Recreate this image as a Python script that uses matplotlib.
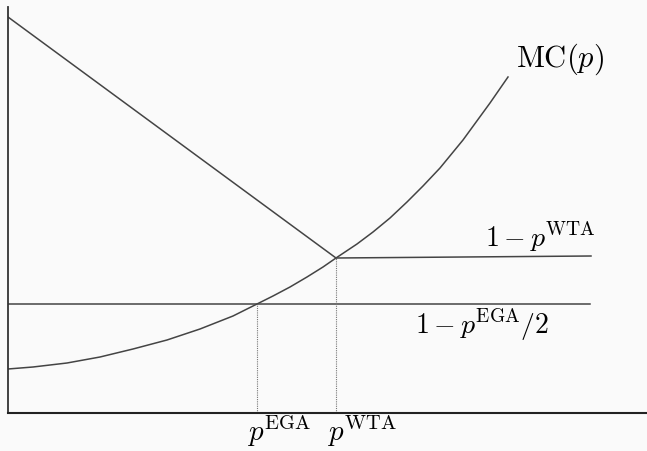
import matplotlib
matplotlib.use("Agg")
import matplotlib.pyplot as plt

plt.rcParams['mathtext.fontset'] = 'cm'

# marginal cost curve MC(p)
mc_p = [0.00, 0.25, 0.59, 0.92, 1.25, 1.59, 1.92, 2.25, 2.49, 2.65, 2.82, 2.99,
        3.15, 3.28, 3.49, 3.65, 3.82, 3.99, 4.15, 4.32, 4.55, 4.82, 5.00]
mc_y = [0.44, 0.46, 0.50, 0.56, 0.64, 0.73, 0.84, 0.97, 1.09, 1.17, 1.26, 1.36,
        1.46, 1.55, 1.69, 1.81, 1.95, 2.11, 2.27, 2.45, 2.73, 3.10, 3.36]

# winner-takes-all: falling line, then flat at 1 - p^WTA
wta_p = [0.00, 3.28, 5.83]
wta_y = [3.96, 1.55, 1.57]

# equal-gain allocation level 1 - p^EGA/2
ega_p = [0.00, 5.82]
ega_y = [1.09, 1.09]

p_ega = 2.49
p_wta = 3.28

bg = '#fafafa'
line_col = '#444444'

fig = plt.figure(figsize=(6.47, 4.51), dpi=100, facecolor=bg)
ax = fig.add_axes([8 / 647, 38 / 451, 639 / 647, 406 / 451])
ax.set_facecolor(bg)

ax.plot(mc_p, mc_y, color=line_col, lw=1.1, solid_joinstyle='round')
ax.plot(wta_p, wta_y, color=line_col, lw=1.1)
ax.plot(ega_p, ega_y, color=line_col, lw=1.1)

# dotted guides down to the price axis
ax.plot([p_ega, p_ega], [0, ega_y[0]], color='#777777', lw=0.8, ls=(0, (1, 1)))
ax.plot([p_wta, p_wta], [0, wta_y[1]], color='#777777', lw=0.8, ls=(0, (1, 1)))

ax.text(5.08, 3.46, r'$\mathrm{MC}(p)$', fontsize=22, ha='left', va='baseline')
ax.text(4.77, 1.66, r'$1-p^{\mathrm{WTA}}$', fontsize=20, ha='left', va='baseline')
ax.text(4.07, 0.79, r'$1-p^{\mathrm{EGA}}/2$', fontsize=20, ha='left', va='baseline')
ax.text(2.39, -0.28, r'$p^{\mathrm{EGA}}$', fontsize=21, ha='left', va='baseline', clip_on=False)
ax.text(3.19, -0.28, r'$p^{\mathrm{WTA}}$', fontsize=21, ha='left', va='baseline', clip_on=False)

ax.set_xlim(0, 6.39)
ax.set_ylim(0, 4.06)
ax.set_xticks([])
ax.set_yticks([])
for side in ['top', 'right']:
    ax.spines[side].set_visible(False)
ax.spines['left'].set_color('#333333')
ax.spines['bottom'].set_color('#222222')
ax.spines['left'].set_linewidth(1.3)
ax.spines['bottom'].set_linewidth(1.5)

fig.savefig('out.png', dpi=100, facecolor=bg)
